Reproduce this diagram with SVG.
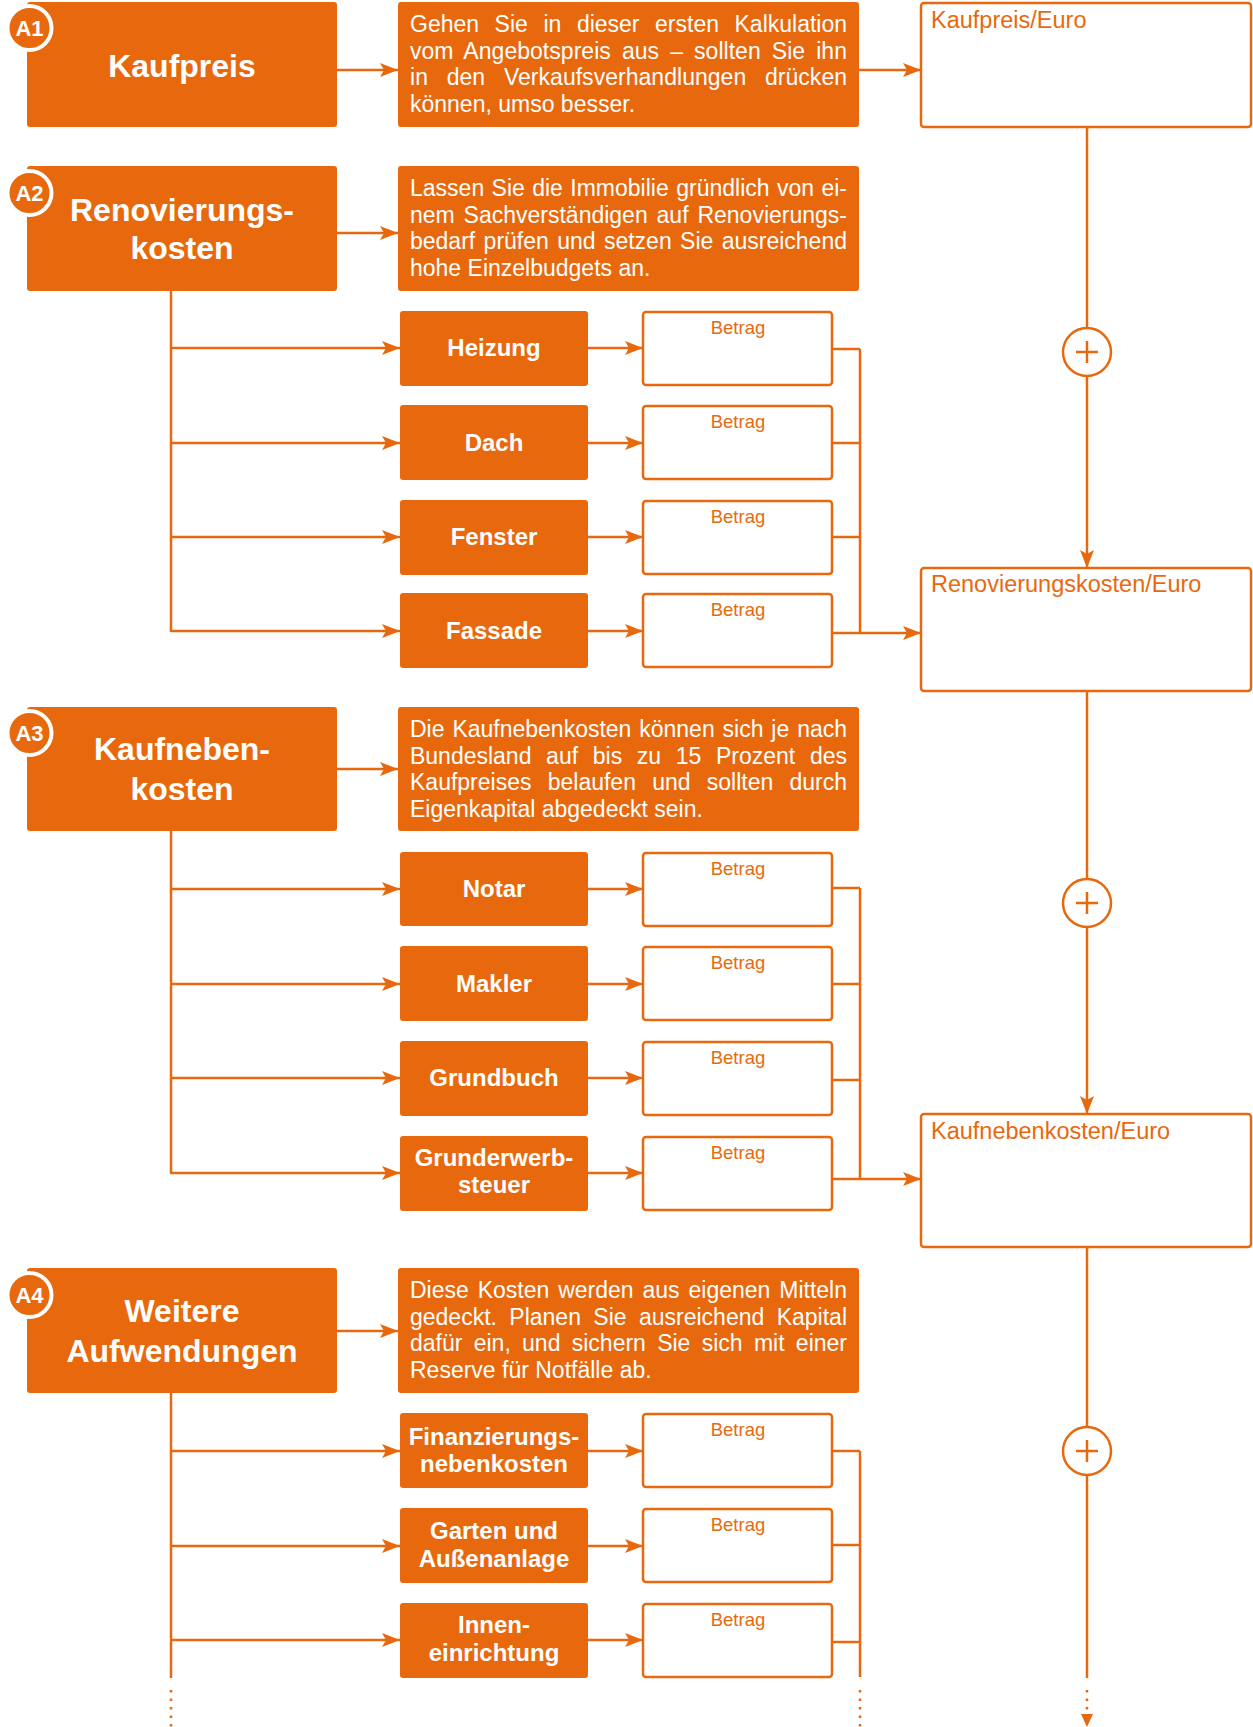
<svg xmlns="http://www.w3.org/2000/svg" width="1253" height="1727" viewBox="0 0 1253 1727">
<style>
.main{fill:#E8690D;}
.desc{fill:#E8690D;}
.item{fill:#E8690D;}
.val{fill:#fff;stroke:#E8690D;stroke-width:2.5;}
.ln{fill:none;stroke:#E8690D;stroke-width:2.5;}
.dot{fill:none;stroke:#E8690D;stroke-width:2.5;stroke-dasharray:2.5 6;}
.ttl{font-family:"Liberation Sans",Arial,sans-serif;font-weight:bold;font-size:32px;fill:#fff;text-anchor:middle;}
.bdg{font-family:"Liberation Sans",Arial,sans-serif;font-weight:bold;font-size:22px;fill:#fff;text-anchor:middle;}
.dt{font-family:"Liberation Sans",Arial,sans-serif;font-size:23px;fill:#fff;}
.it{font-family:"Liberation Sans",Arial,sans-serif;font-weight:bold;font-size:24px;fill:#fff;text-anchor:middle;}
.bt{font-family:"Liberation Sans",Arial,sans-serif;font-size:18.5px;fill:#E8690D;text-anchor:middle;}
.rl{font-family:"Liberation Sans",Arial,sans-serif;font-size:23.5px;fill:#E8690D;}
.badge{fill:#E8690D;stroke:#fff;stroke-width:4;}
.plus{fill:#fff;stroke:#E8690D;stroke-width:2.5;}
</style>
<defs>
<marker id="ah" viewBox="0 0 18 14" refX="18" refY="7" markerWidth="18" markerHeight="14" markerUnits="userSpaceOnUse" orient="auto">
<path d="M0,0 L18,7 L0,14 L4,7 Z" fill="#E8690D"/>
</marker>
</defs>

<g id="connectors">
<!-- main to desc -->
<line class="ln" x1="337" y1="70" x2="398" y2="70" marker-end="url(#ah)"/>
<line class="ln" x1="337" y1="233" x2="398" y2="233" marker-end="url(#ah)"/>
<line class="ln" x1="337" y1="769" x2="398" y2="769" marker-end="url(#ah)"/>
<line class="ln" x1="337" y1="1331" x2="398" y2="1331" marker-end="url(#ah)"/>
<!-- desc A1 to Kaufpreis/Euro -->
<line class="ln" x1="859" y1="70" x2="921" y2="70" marker-end="url(#ah)"/>
<!-- A2 trunk -->
<line class="ln" x1="171" y1="291" x2="171" y2="632"/>
<line class="ln" x1="171" y1="348" x2="400" y2="348" marker-end="url(#ah)"/>
<line class="ln" x1="171" y1="443" x2="400" y2="443" marker-end="url(#ah)"/>
<line class="ln" x1="171" y1="537" x2="400" y2="537" marker-end="url(#ah)"/>
<line class="ln" x1="171" y1="631" x2="400" y2="631" marker-end="url(#ah)"/>
<line class="ln" x1="588" y1="348" x2="643" y2="348" marker-end="url(#ah)"/>
<line class="ln" x1="588" y1="443" x2="643" y2="443" marker-end="url(#ah)"/>
<line class="ln" x1="588" y1="537" x2="643" y2="537" marker-end="url(#ah)"/>
<line class="ln" x1="588" y1="631" x2="643" y2="631" marker-end="url(#ah)"/>
<path class="ln" d="M832,349 H860 M832,443 H860 M832,537 H860 M860,349 V633"/>
<line class="ln" x1="832" y1="633" x2="921" y2="633" marker-end="url(#ah)"/>
<!-- A3 trunk -->
<line class="ln" x1="171" y1="831" x2="171" y2="1174"/>
<line class="ln" x1="171" y1="889" x2="400" y2="889" marker-end="url(#ah)"/>
<line class="ln" x1="171" y1="984" x2="400" y2="984" marker-end="url(#ah)"/>
<line class="ln" x1="171" y1="1078" x2="400" y2="1078" marker-end="url(#ah)"/>
<line class="ln" x1="171" y1="1173" x2="400" y2="1173" marker-end="url(#ah)"/>
<line class="ln" x1="588" y1="889" x2="643" y2="889" marker-end="url(#ah)"/>
<line class="ln" x1="588" y1="984" x2="643" y2="984" marker-end="url(#ah)"/>
<line class="ln" x1="588" y1="1078" x2="643" y2="1078" marker-end="url(#ah)"/>
<line class="ln" x1="588" y1="1173" x2="643" y2="1173" marker-end="url(#ah)"/>
<path class="ln" d="M832,888 H860 M832,984 H860 M832,1080 H860 M860,888 V1179"/>
<line class="ln" x1="832" y1="1179" x2="921" y2="1179" marker-end="url(#ah)"/>
<!-- A4 trunk -->
<line class="ln" x1="171" y1="1393" x2="171" y2="1678"/>
<line class="dot" x1="171" y1="1690" x2="171" y2="1727"/>
<line class="ln" x1="171" y1="1451" x2="400" y2="1451" marker-end="url(#ah)"/>
<line class="ln" x1="171" y1="1546" x2="400" y2="1546" marker-end="url(#ah)"/>
<line class="ln" x1="171" y1="1640" x2="400" y2="1640" marker-end="url(#ah)"/>
<line class="ln" x1="588" y1="1451" x2="643" y2="1451" marker-end="url(#ah)"/>
<line class="ln" x1="588" y1="1546" x2="643" y2="1546" marker-end="url(#ah)"/>
<line class="ln" x1="588" y1="1640" x2="643" y2="1640" marker-end="url(#ah)"/>
<path class="ln" d="M832,1451 H860 M832,1545 H860 M832,1642 H860 M860,1451 V1677"/>
<line class="dot" x1="860" y1="1690" x2="860" y2="1727"/>
<!-- right spine -->
<line class="ln" x1="1087" y1="127" x2="1087" y2="328"/>
<line class="ln" x1="1087" y1="376" x2="1087" y2="568" marker-end="url(#ah)"/>
<line class="ln" x1="1087" y1="691" x2="1087" y2="879"/>
<line class="ln" x1="1087" y1="927" x2="1087" y2="1114" marker-end="url(#ah)"/>
<line class="ln" x1="1087" y1="1247" x2="1087" y2="1427"/>
<line class="ln" x1="1087" y1="1475" x2="1087" y2="1678"/>
<line class="dot" x1="1087" y1="1690" x2="1087" y2="1712"/>
<path d="M1081,1714 L1087,1727 L1093,1714 Z" fill="#E8690D"/>
</g>

<!-- A1 -->
<g id="a1">
<rect class="main" x="27" y="2" width="310" height="125" rx="3"/>
<text class="ttl" x="182" y="77">Kaufpreis</text>
<circle class="badge" cx="29.5" cy="28" r="22"/>
<text class="bdg" x="29.5" y="36">A1</text>
</g>
<g id="a1-desc">
<rect class="desc" x="398" y="2" width="461" height="125" rx="3"/>
<text class="dt" x="410" y="32" word-spacing="9.2" textLength="437" lengthAdjust="spacing">Gehen Sie in dieser ersten Kalkulation</text>
<text class="dt" x="410" y="58.5" word-spacing="4.6" textLength="437" lengthAdjust="spacing">vom Angebotspreis aus – sollten Sie ihn</text>
<text class="dt" x="410" y="85" word-spacing="12.3" textLength="437" lengthAdjust="spacing">in den Verkaufsverhandlungen drücken</text>
<text class="dt" x="410" y="111.5">können, umso besser.</text>
</g>
<g id="kaufpreis-euro">
<rect class="val" x="921" y="3" width="330" height="124" rx="3"/>
<text class="rl" x="931" y="28">Kaufpreis/Euro</text>
</g>

<!-- A2 -->
<g id="a2">
<rect class="main" x="27" y="166" width="310" height="125" rx="3"/>
<text class="ttl" x="182" y="221">Renovierungs-</text>
<text class="ttl" x="182" y="259">kosten</text>
<circle class="badge" cx="29.5" cy="193" r="22"/>
<text class="bdg" x="29.5" y="201">A2</text>
</g>
<g id="a2-desc">
<rect class="desc" x="398" y="166" width="461" height="125" rx="3"/>
<text class="dt" x="410" y="196" word-spacing="1" textLength="437" lengthAdjust="spacing">Lassen Sie die Immobilie gründlich von ei-</text>
<text class="dt" x="410" y="222.5" word-spacing="2.5" textLength="437" lengthAdjust="spacing">nem Sachverständigen auf Renovierungs-</text>
<text class="dt" x="410" y="249" word-spacing="2" textLength="437" lengthAdjust="spacing">bedarf prüfen und setzen Sie ausreichend</text>
<text class="dt" x="410" y="275.5">hohe Einzelbudgets an.</text>
</g>
<g id="heizung"><rect class="item" x="400" y="311" width="188" height="75" rx="3"/><text class="it" x="494" y="356">Heizung</text></g>
<g id="dach"><rect class="item" x="400" y="405" width="188" height="75" rx="3"/><text class="it" x="494" y="451">Dach</text></g>
<g id="fenster"><rect class="item" x="400" y="500" width="188" height="75" rx="3"/><text class="it" x="494" y="545">Fenster</text></g>
<g id="fassade"><rect class="item" x="400" y="593" width="188" height="75" rx="3"/><text class="it" x="494" y="639">Fassade</text></g>
<g id="betrag-heizung"><rect class="val" x="643" y="312" width="189" height="73" rx="3"/><text class="bt" x="738" y="334">Betrag</text></g>
<g id="betrag-dach"><rect class="val" x="643" y="406" width="189" height="73" rx="3"/><text class="bt" x="738" y="428">Betrag</text></g>
<g id="betrag-fenster"><rect class="val" x="643" y="501" width="189" height="73" rx="3"/><text class="bt" x="738" y="523">Betrag</text></g>
<g id="betrag-fassade"><rect class="val" x="643" y="594" width="189" height="73" rx="3"/><text class="bt" x="738" y="616">Betrag</text></g>
<g id="plus1"><circle class="plus" cx="1087" cy="352" r="24"/><path class="ln" d="M1076,352 H1098 M1087,341 V363"/></g>
<g id="renovierung-euro">
<rect class="val" x="921" y="568" width="330" height="123" rx="3"/>
<text class="rl" x="931" y="592">Renovierungskosten/Euro</text>
</g>

<!-- A3 -->
<g id="a3">
<rect class="main" x="27" y="707" width="310" height="124" rx="3"/>
<text class="ttl" x="182" y="760">Kaufneben-</text>
<text class="ttl" x="182" y="800">kosten</text>
<circle class="badge" cx="29.5" cy="733" r="22"/>
<text class="bdg" x="29.5" y="741">A3</text>
</g>
<g id="a3-desc">
<rect class="desc" x="398" y="707" width="461" height="124" rx="3"/>
<text class="dt" x="410" y="737" word-spacing="1.5" textLength="437" lengthAdjust="spacing">Die Kaufnebenkosten können sich je nach</text>
<text class="dt" x="410" y="763.5" word-spacing="8.3" textLength="437" lengthAdjust="spacing">Bundesland auf bis zu 15 Prozent des</text>
<text class="dt" x="410" y="790" word-spacing="9.8" textLength="437" lengthAdjust="spacing">Kaufpreises belaufen und sollten durch</text>
<text class="dt" x="410" y="816.5">Eigenkapital abgedeckt sein.</text>
</g>
<g id="notar"><rect class="item" x="400" y="852" width="188" height="74" rx="3"/><text class="it" x="494" y="897">Notar</text></g>
<g id="makler"><rect class="item" x="400" y="946" width="188" height="75" rx="3"/><text class="it" x="494" y="992">Makler</text></g>
<g id="grundbuch"><rect class="item" x="400" y="1041" width="188" height="75" rx="3"/><text class="it" x="494" y="1086">Grundbuch</text></g>
<g id="grunderwerbsteuer"><rect class="item" x="400" y="1136" width="188" height="75" rx="3"/><text class="it" x="494" y="1166">Grunderwerb-</text><text class="it" x="494" y="1193">steuer</text></g>
<g id="betrag-notar"><rect class="val" x="643" y="853" width="189" height="73" rx="3"/><text class="bt" x="738" y="875">Betrag</text></g>
<g id="betrag-makler"><rect class="val" x="643" y="947" width="189" height="73" rx="3"/><text class="bt" x="738" y="969">Betrag</text></g>
<g id="betrag-grundbuch"><rect class="val" x="643" y="1042" width="189" height="73" rx="3"/><text class="bt" x="738" y="1064">Betrag</text></g>
<g id="betrag-grunderwerb"><rect class="val" x="643" y="1137" width="189" height="73" rx="3"/><text class="bt" x="738" y="1159">Betrag</text></g>
<g id="plus2"><circle class="plus" cx="1087" cy="903" r="24"/><path class="ln" d="M1076,903 H1098 M1087,892 V914"/></g>
<g id="kaufneben-euro">
<rect class="val" x="921" y="1114" width="330" height="133" rx="3"/>
<text class="rl" x="931" y="1139">Kaufnebenkosten/Euro</text>
</g>

<!-- A4 -->
<g id="a4">
<rect class="main" x="27" y="1268" width="310" height="125" rx="3"/>
<text class="ttl" x="182" y="1322">Weitere</text>
<text class="ttl" x="182" y="1362">Aufwendungen</text>
<circle class="badge" cx="29.5" cy="1295" r="22"/>
<text class="bdg" x="29.5" y="1303">A4</text>
</g>
<g id="a4-desc">
<rect class="desc" x="398" y="1268" width="461" height="125" rx="3"/>
<text class="dt" x="410" y="1298" word-spacing="2.5" textLength="437" lengthAdjust="spacing">Diese Kosten werden aus eigenen Mitteln</text>
<text class="dt" x="410" y="1324.5" word-spacing="6" textLength="437" lengthAdjust="spacing">gedeckt. Planen Sie ausreichend Kapital</text>
<text class="dt" x="410" y="1351" word-spacing="4.9" textLength="437" lengthAdjust="spacing">dafür ein, und sichern Sie sich mit einer</text>
<text class="dt" x="410" y="1377.5">Reserve für Notfälle ab.</text>
</g>
<g id="finanzierung"><rect class="item" x="400" y="1413" width="188" height="75" rx="3"/><text class="it" x="494" y="1445">Finanzierungs-</text><text class="it" x="494" y="1472">nebenkosten</text></g>
<g id="garten"><rect class="item" x="400" y="1508" width="188" height="75" rx="3"/><text class="it" x="494" y="1539">Garten und</text><text class="it" x="494" y="1567">Außenanlage</text></g>
<g id="innen"><rect class="item" x="400" y="1603" width="188" height="75" rx="3"/><text class="it" x="494" y="1633">Innen-</text><text class="it" x="494" y="1661">einrichtung</text></g>
<g id="betrag-finanzierung"><rect class="val" x="643" y="1414" width="189" height="73" rx="3"/><text class="bt" x="738" y="1436">Betrag</text></g>
<g id="betrag-garten"><rect class="val" x="643" y="1509" width="189" height="73" rx="3"/><text class="bt" x="738" y="1531">Betrag</text></g>
<g id="betrag-innen"><rect class="val" x="643" y="1604" width="189" height="73" rx="3"/><text class="bt" x="738" y="1626">Betrag</text></g>
<g id="plus3"><circle class="plus" cx="1087" cy="1451" r="24"/><path class="ln" d="M1076,1451 H1098 M1087,1440 V1462"/></g>
</svg>
